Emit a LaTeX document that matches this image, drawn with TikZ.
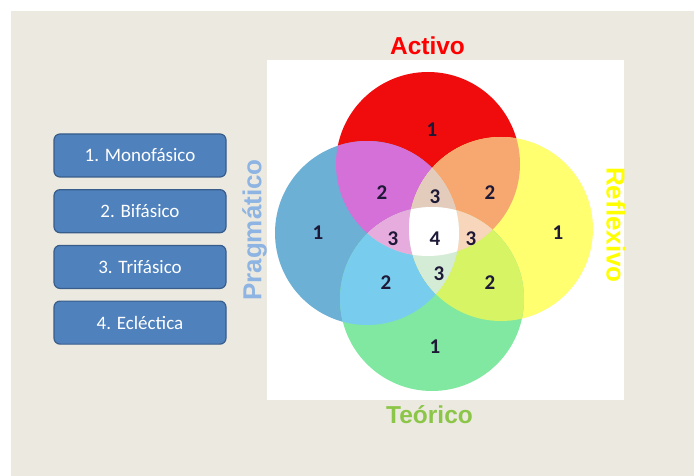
\documentclass[tikz,border=0pt]{standalone}
\usepackage{fontspec}
\setmainfont{Liberation Sans}
\newfontfamily\calibri{Carlito}
\usetikzlibrary{positioning}

\definecolor{paper}{RGB}{236,233,224}
\definecolor{boxfill}{RGB}{79,129,189}
\definecolor{boxline}{RGB}{56,93,138}
\definecolor{numtext}{RGB}{30,25,55}
% circles
\definecolor{cRed}{RGB}{240,12,12}
\definecolor{cBlue}{RGB}{108,176,214}
\definecolor{cYellow}{RGB}{255,255,112}
\definecolor{cGreen}{RGB}{128,232,160}
% overlaps
\definecolor{cRB}{RGB}{212,112,216}
\definecolor{cRY}{RGB}{246,168,112}
\definecolor{cBG}{RGB}{120,204,238}
\definecolor{cGY}{RGB}{214,244,100}
\definecolor{cRG}{RGB}{240,206,186}
\definecolor{cBY}{RGB}{222,226,200}
\definecolor{cRBY}{RGB}{228,204,188}
\definecolor{cRBG}{RGB}{230,172,222}
\definecolor{cRYG}{RGB}{248,214,188}
\definecolor{cBGY}{RGB}{212,236,214}
\definecolor{labBlue}{RGB}{141,180,226}
\definecolor{labGreen}{RGB}{140,198,72}
\definecolor{labYellow}{RGB}{255,255,0}

\newcommand{\rad}{92pt}
% two-circle and three-circle regions
\newcommand{\lens}[3]{\begin{scope}\clip (#1) circle[radius=\rad];
    \fill[#3] (#2) circle[radius=\rad];\end{scope}}
\newcommand{\tri}[4]{\begin{scope}\clip (#1) circle[radius=\rad];
    \clip (#2) circle[radius=\rad];
    \fill[#4] (#3) circle[radius=\rad];\end{scope}}

\begin{document}
\begin{tikzpicture}[
    x=1pt, y=-1pt,
    stylebox/.style = {draw=boxline, fill=boxfill, line width=1.2pt,
        rounded corners=6pt, minimum width=172pt, minimum height=43pt,
        text=white, font=\calibri\fontsize{19}{22}\selectfont},
    title/.style = {inner sep=0pt, font=\bfseries\fontsize{24.5}{28}\selectfont},
    sidetitle/.style = {inner sep=0pt, font=\bfseries\fontsize{26}{30}\selectfont},
    num/.style = {text=numtext, inner sep=0pt,
        font=\calibri\bfseries\fontsize{21}{24}\selectfont},
    node distance = 11.5pt
]
    \useasboundingbox (0,0) rectangle (694,476);
    \fill[paper] (11,11) rectangle (694,476);
    \fill[white] (267,60) rectangle (624,400);

    \coordinate (act) at (428,164);
    \coordinate (pra) at (367,233);
    \coordinate (ref) at (501,229);
    \coordinate (teo) at (432,299);

    \fill[cRed] (act) circle[radius=\rad];
    \fill[cBlue] (pra) circle[radius=\rad];
    \fill[cYellow] (ref) circle[radius=\rad];
    \fill[cGreen] (teo) circle[radius=\rad];

    \lens{act}{pra}{cRB}
    \lens{act}{ref}{cRY}
    \lens{pra}{teo}{cBG}
    \lens{ref}{teo}{cGY}
    \lens{act}{teo}{cRG}
    \lens{pra}{ref}{cBY}

    \tri{act}{pra}{ref}{cRBY}
    \tri{act}{pra}{teo}{cRBG}
    \tri{act}{ref}{teo}{cRYG}
    \tri{pra}{teo}{ref}{cBGY}

    \begin{scope}
        \clip (act) circle[radius=\rad];
        \clip (pra) circle[radius=\rad];
        \clip (ref) circle[radius=\rad];
        \fill[white] (teo) circle[radius=\rad];
    \end{scope}

    % region numbers
    \node[num] (nAct) at (432,130) {1};
    \node[num] (nPra) at (318,233) {1};
    \node[num] (nRef) at (558,233) {1};
    \node[num] (nTeo) at (435,347) {1};
    \node[num] (nAP) at (382,193) {2};
    \node[num] (nAR) at (490,193) {2};
    \node[num] (nPT) at (386,283) {2};
    \node[num] (nRT) at (490,283) {2};
    \node[num] (nAPR) at (435,197) {3};
    \node[num] (nAPT) at (393,239) {3};
    \node[num] (nART) at (471,239) {3};
    \node[num] (nPRT) at (439,274) {3};
    \node[num] (nAll) at (435,239) {4};

    % titles
    \node[title, text=red, anchor=base] (activo) at (427.5,55) {Activo};
    \node[title, text=labGreen, anchor=base] (teorico) at (429.5,423) {Teórico};
    \node[sidetitle, text=labBlue, rotate=90] (pragmatico) at (254.5,230) {Pragmático};
    \node[sidetitle, text=labYellow, rotate=-90] (reflexivo) at (616,225) {Reflexivo};

    % kinds of style
    \node[stylebox] (mono) at (140,155.5) {1. Monofásico};
    \node[stylebox, below=of mono] (bi) {2. Bifásico};
    \node[stylebox, below=of bi] (tri) {3. Trifásico};
    \node[stylebox, below=of tri] (ecl) {4. Ecléctica};
\end{tikzpicture}
\end{document}
